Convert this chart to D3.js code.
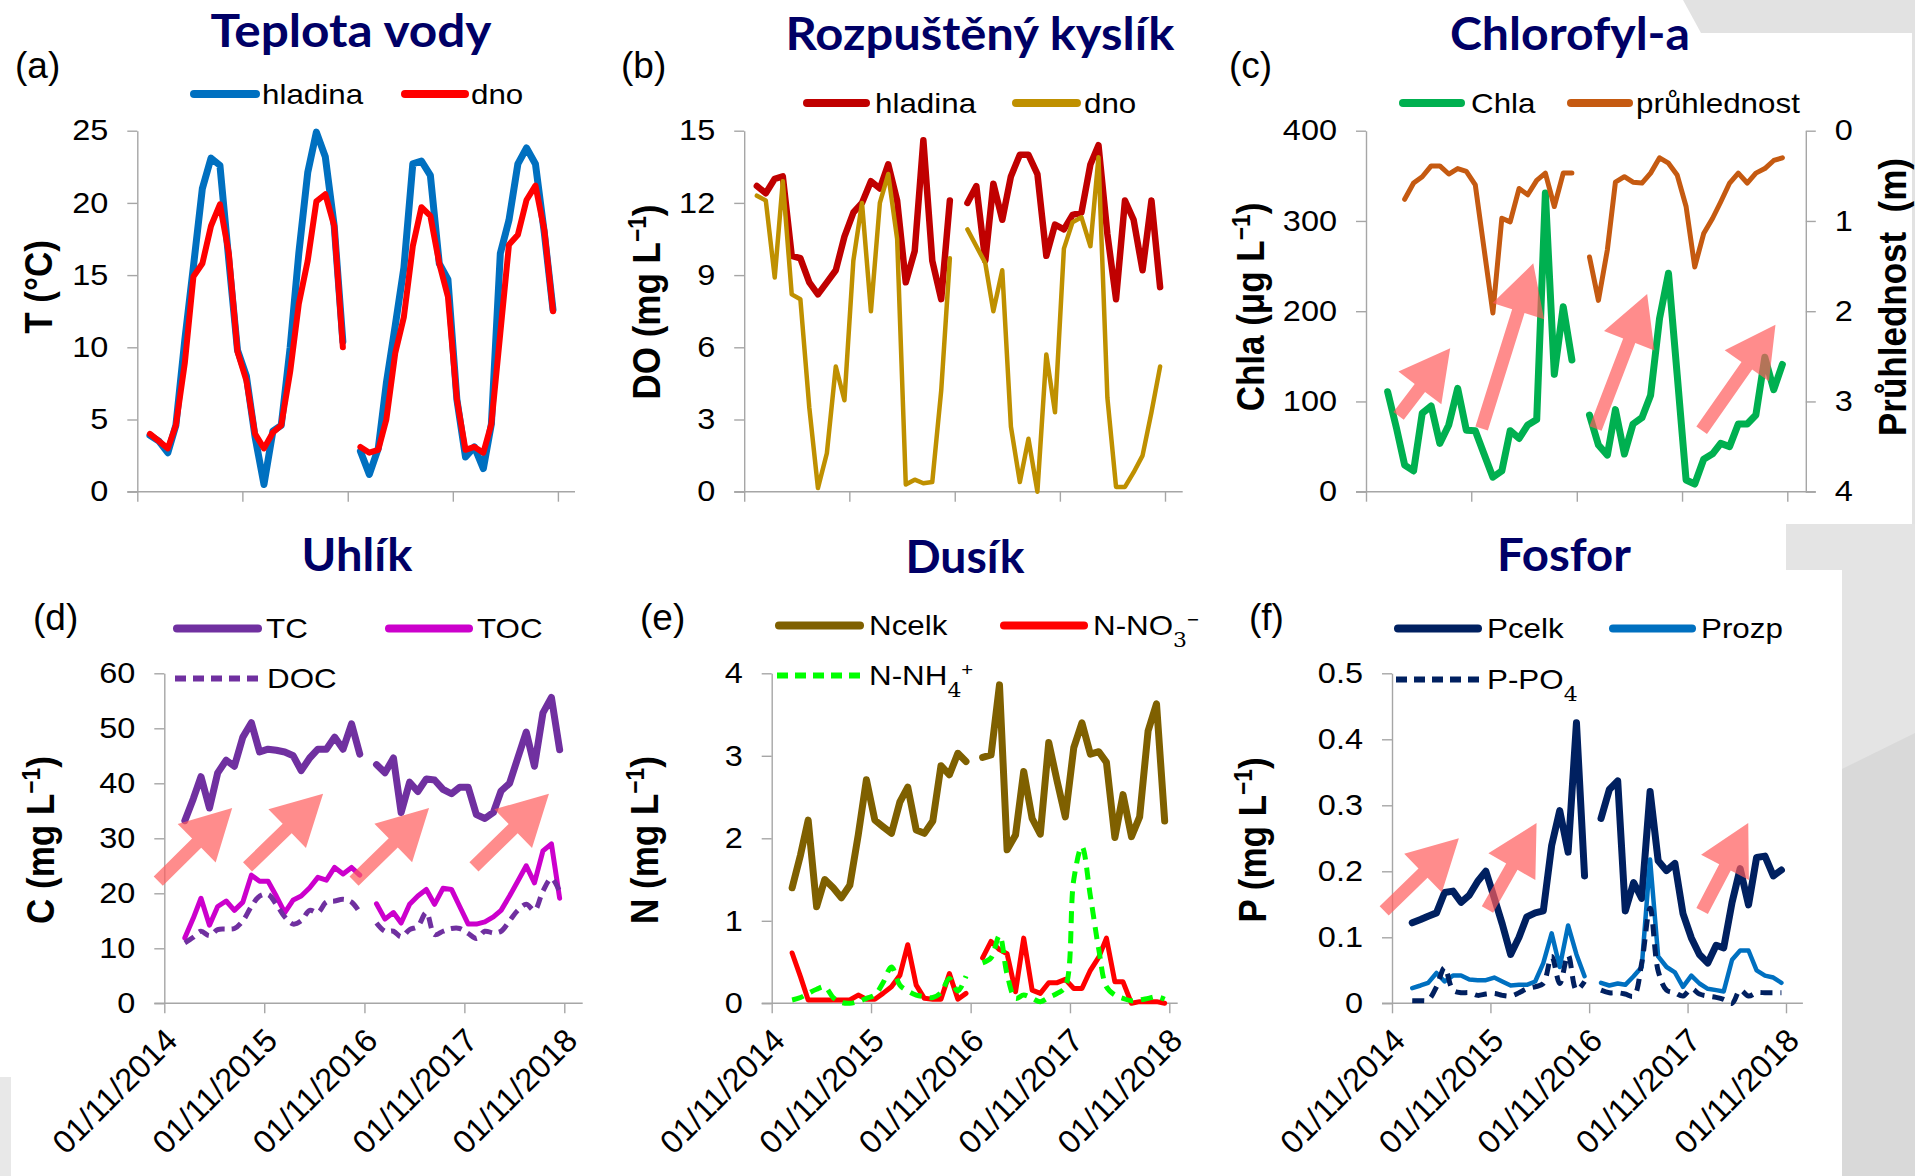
<!DOCTYPE html>
<html>
<head>
<meta charset="utf-8">
<script src="https://cdn.jsdelivr.net/npm/d3@7"></script>
<style>
  html, body { margin: 0; padding: 0; background: #ffffff; }
  svg { display: block; }
</style>
</head>
<body>
<svg id="fig" width="1915" height="1176"></svg>
<script>
// ---------- sampling dates (monthly, mid-month; Nov 2016 not sampled) ----------
const months = [
  "2014-12-15",
  "2015-01-15","2015-02-15","2015-03-15","2015-04-15","2015-05-15","2015-06-15",
  "2015-07-15","2015-08-15","2015-09-15","2015-10-15","2015-11-15","2015-12-15",
  "2016-01-15","2016-02-15","2016-03-15","2016-04-15","2016-05-15","2016-06-15",
  "2016-07-15","2016-08-15","2016-09-15","2016-10-15","2016-11-15","2016-12-15",
  "2017-01-15","2017-02-15","2017-03-15","2017-04-15","2017-05-15","2017-06-15",
  "2017-07-15","2017-08-15","2017-09-15","2017-10-15","2017-11-15","2017-12-15",
  "2018-01-15","2018-02-15","2018-03-15","2018-04-15","2018-05-15","2018-06-15",
  "2018-07-15","2018-08-15","2018-09-15","2018-10-15"
];
const tickLabels = ["01/11/2014", "01/11/2015", "01/11/2016", "01/11/2017", "01/11/2018"];

// ---------- (a) water temperature, °C ----------
const tempSurface = [3.9,3.5,2.7,4.6,10.5,15.6,21.0,23.1,22.6,16.0,9.8,8.0,3.8,0.5,4.2,4.6,10.0,16.5,22.1,24.9,23.2,18.4,10.4, null,
  2.8,1.2,3.0,7.5,11.5,15.5,22.7,22.9,21.9,15.8,14.7,6.4,2.4,3.1,1.6,4.7,16.5,18.8,22.7,23.8,22.7,17.9,12.6];
const tempBottom = [4.0,3.5,3.0,4.6,8.9,14.9,15.8,18.4,19.9,16.5,9.7,7.7,4.0,3.0,4.1,4.6,8.3,13.0,16.0,20.1,20.6,18.4,10.0, null,
  3.1,2.7,2.9,5.0,9.6,12.1,17.0,19.7,19.1,15.8,13.5,6.4,2.9,3.1,2.7,4.7,11.0,17.1,17.8,20.2,21.2,18.1,12.5];

// ---------- (b) dissolved oxygen, mg/L ----------
const doSurface = [12.7,12.4,13.0,13.1,9.8,9.7,8.7,8.2,8.7,9.2,10.6,11.6,12.0,12.9,12.6,13.6,12.1,8.7,10.0,14.6,9.6,8.0,12.1, null,
  12.0,12.7,9.6,12.8,11.3,13.1,14.0,14.0,13.2,9.8,11.1,10.9,11.5,11.6,13.6,14.4,10.7,8.0,12.1,11.3,9.2,12.1,8.5];
const doBottom = [12.3,12.1,8.9,12.9,8.2,8.0,3.5,0.15,1.6,5.2,3.8,9.6,12.0,7.5,12.0,13.2,10.5,0.3,0.5,0.35,0.4,4.2,9.7, null,
  10.9,10.2,9.5,7.5,9.2,2.7,0.4,2.2,0.0,5.7,3.3,10.1,11.2,11.4,10.2,13.9,3.9,0.2,0.2,0.8,1.5,3.3,5.2];

// ---------- (c) chlorophyll-a (µg/L) and Secchi transparency (m) ----------
const chla = [null,110.8,70,29.5,23,87,95,53.5,74,114.5,68,67.6,42,16,23,67.6,59,74,80,331,130,205,146, null,
  85,51.7,40.6,91,41.7,75,82,107,192,242,130,13,8.5,36,42,53.5,50,75,75,85,149,113,141];
const secchi = [null,null,null,0.76,0.58,0.51,0.39,0.39,0.48,0.42,0.45,0.60,1.3,2.02,0.97,1.01,0.64,0.71,0.55,0.47,0.84,0.47,0.47, null,
  1.40,1.88,1.32,0.57,0.51,0.57,0.58,0.47,0.30,0.36,0.49,0.84,1.51,1.14,0.97,0.79,0.58,0.47,0.58,0.47,0.42,0.33,0.30];

// ---------- (d) carbon, mg/L ----------
const tc = [null,33.2,37.2,41.2,35.5,41.9,44.2,43.1,48.4,51.0,45.7,46.2,46.0,45.7,45.0,42.3,44.6,46.2,46.2,48.4,46.2,50.8,45.3, null,
  43.4,41.9,44.6,34.7,40.2,38.5,40.8,40.6,38.9,38.1,39.3,39.3,34.3,33.6,34.7,38.6,40.0,44.6,49.3,43.1,52.8,55.6,46.1];
const toc = [null,11.9,15.5,19.1,14.2,17.6,18.6,16.9,18.4,23.3,22.2,22.2,19.5,16.5,18.8,19.5,21.0,22.9,22.4,24.7,23.5,24.7,23.3, null,
  18.1,15.3,16.5,14.6,18.0,19.5,20.7,18.0,20.9,20.7,17.6,14.4,14.4,14.8,15.7,16.9,19.5,22.2,25.0,21.9,27.7,29.0,19.1];
const doc = [null,11.0,12.0,13.1,12.3,13.4,13.5,13.6,15.0,17.6,19.5,19.8,18.0,15.7,14.4,15.0,16.9,16.5,18.4,18.6,18.9,18.4,16.5, null,
  14.6,13.1,13.1,12.1,13.4,14.0,16.5,12.5,13.1,13.6,13.6,12.7,11.8,13.1,12.8,13.1,15.0,16.9,18.0,16.9,20.4,22.7,20.3];

// ---------- (e) nitrogen, mg/L ----------
const nTotal = [null,1.40,1.80,2.22,1.17,1.50,1.40,1.28,1.43,2.04,2.71,2.22,2.14,2.06,2.44,2.62,2.10,2.06,2.21,2.88,2.77,3.03,2.93, null,
  2.98,3.01,3.86,1.86,2.04,2.81,2.24,2.05,3.16,2.69,2.26,3.10,3.40,3.02,3.05,2.92,2.01,2.53,2.02,2.26,3.30,3.63,2.21];
const nNO3 = [null,0.61,0.32,0.04,0.04,0.04,0.04,0.04,0.04,0.10,0.05,0.05,0.12,0.20,0.34,0.71,0.22,0.06,0.05,0.05,0.36,0.05,0.12, null,
  0.55,0.75,0.65,0.60,0.14,0.79,0.16,0.12,0.25,0.25,0.29,0.18,0.18,0.40,0.56,0.79,0.26,0.26,0.0,0.02,0.02,0.02,0.0];
const nNH4 = [null,0.04,0.07,0.12,0.17,0.20,0.07,0.01,0.0,0.02,0.06,0.10,0.25,0.44,0.22,0.15,0.10,0.08,0.07,0.13,0.30,0.15,0.33, null,
  0.49,0.55,0.82,0.35,0.06,0.10,0.06,0.02,0.07,0.12,0.20,1.50,1.90,1.30,0.65,0.20,0.10,0.06,0.03,0.04,0.06,0.08,0.05];

// ---------- (f) phosphorus, mg/L ----------
const pTotal = [null,0.122,0.127,0.132,0.137,0.168,0.170,0.153,0.164,0.185,0.200,0.160,0.120,0.074,0.100,0.131,0.137,0.140,0.239,0.292,0.229,0.425,0.193, null,
  0.280,0.324,0.337,0.140,0.183,0.159,0.321,0.216,0.201,0.212,0.136,0.099,0.074,0.061,0.088,0.084,0.153,0.204,0.149,0.221,0.223,0.193,0.202];
const pDissolved = [null,0.023,0.027,0.031,0.046,0.033,0.042,0.042,0.036,0.035,0.035,0.039,0.033,0.027,0.028,0.028,0.033,0.061,0.106,0.055,0.118,0.074,0.041, null,
  0.031,0.027,0.030,0.028,0.041,0.055,0.218,0.071,0.055,0.047,0.025,0.042,0.030,0.022,0.020,0.018,0.066,0.080,0.080,0.050,0.042,0.039,0.031];
const pPO4 = [null,0.004,0.004,0.005,0.025,0.054,0.020,0.016,0.016,0.012,0.014,0.015,0.012,0.011,0.016,0.022,0.025,0.030,0.071,0.030,0.073,0.020,0.033, null,
  0.020,0.016,0.016,0.014,0.011,0.061,0.144,0.049,0.020,0.016,0.011,0.022,0.014,0.011,0.009,0.006,0.0,0.020,0.011,0.016,0.016,0.016,0.016];

// ---------- trend arrows: [from date, from value, to date, to value] ----------
const arrowsChla = [
  ["2015-02-22", 84, "2015-08-20", 159],
  ["2015-12-07", 70, "2016-06-03", 253],
  ["2017-01-05", 70, "2017-07-03", 219],
  ["2018-01-08", 68, "2018-09-21", 185]
];
const arrowsCarbon = [
  ["2014-10-10", 22.2, "2015-07-07", 35.5],
  ["2015-09-01", 24.8, "2016-06-03", 38.1],
  ["2016-09-24", 22.2, "2017-06-25", 35.5],
  ["2017-12-06", 24.8, "2018-09-06", 38.1]
];
const arrowsPhosphorus = [
  ["2014-10-03", 0.140, "2015-07-07", 0.250],
  ["2015-10-21", 0.142, "2016-04-20", 0.273],
  ["2017-12-25", 0.140, "2018-06-14", 0.273]
];

// ====================================================================
const svg = d3.select("#fig");
const FONT = "'Liberation Sans', Arial, sans-serif";
const TITLE_FONT = "Lato, 'Open Sans', sans-serif";
const AXIS_COLOR = "#a6a6a6";
const TITLE_COLOR = "#000066";
const SX = 1.12;   // horizontal widening of the lettering

const parseDay = d3.timeParse("%Y-%m-%d");
const parseTick = d3.timeParse("%d/%m/%Y");
const dates = months.map(parseDay);
const tickDates = tickLabels.map(parseTick);
const timeDomain = [tickDates[0], tickDates[tickDates.length - 1]];

// slide background pieces around the figure
const bg = svg.append("g");
bg.append("polygon").attr("points", "1683,0 1915,0 1915,33 1701,33").attr("fill", "#e2e2e2");
bg.append("rect").attr("x", 1912).attr("y", 0).attr("width", 3).attr("height", 524).attr("fill", "#e2e2e2");
bg.append("polygon").attr("points", "1786,524 1915,524 1915,1176 1842,1176 1842,570 1786,570").attr("fill", "#e4e4e4");
bg.append("polygon").attr("points", "1842,769 1915,733 1915,1176 1842,1176").attr("fill", "#d9d9d9");
bg.append("rect").attr("x", 0).attr("y", 1077).attr("width", 11).attr("height", 99).attr("fill", "#e8e8e8");

// widen text horizontally about its own anchor point
function widen(sel) {
  sel.each(function () {
    const t = d3.select(this);
    const x = +t.attr("x") || 0, y = +t.attr("y") || 0;
    const prev = t.attr("transform") || "";
    t.attr("x", 0).attr("y", 0).attr("transform", `${prev} translate(${x},${y}) scale(${SX},1)`);
  });
}

function addText(g, x, y, parts, opts) {
  const t = g.append("text")
    .attr("font-family", opts.family || FONT)
    .attr("font-size", opts.size)
    .attr("font-weight", opts.weight || "normal")
    .attr("fill", opts.color || "#000")
    .attr("text-anchor", opts.anchor || "start")
    .style("white-space", "pre");
  const sx = opts.sx || 1;
  t.attr("transform", `translate(${x},${y}) scale(${sx},1) ${opts.rotate ? `rotate(${opts.rotate})` : ""}`);
  if (opts.dy) t.attr("dy", opts.dy);
  if (opts.length) t.attr("textLength", opts.length).attr("lengthAdjust", "spacingAndGlyphs");
  (typeof parts === "string" ? [parts] : parts).forEach(p => {
    if (typeof p === "string") { t.append("tspan").text(p); return; }
    const s = t.append("tspan").text(p.t);
    if (p.sup) s.attr("baseline-shift", "super").attr("font-size", "65%");
    if (p.sub) s.attr("baseline-shift", "sub").attr("font-size", "70%");
    if (p.serif) s.attr("font-family", "'DejaVu Serif', serif");
  });
  return t;
}

function styleAxis(ax) {
  ax.attr("font-family", FONT).attr("font-size", 29);
  ax.selectAll("line").attr("stroke", AXIS_COLOR).attr("stroke-width", 1.4);
  ax.selectAll(".domain").attr("stroke", AXIS_COLOR).attr("stroke-width", 1.4);
  ax.selectAll("text").attr("fill", "#000");
  widen(ax.selectAll("text"));
}

function drawArrow(g, x, y, a) {
  const x0 = x(parseDay(a[0])), y0 = y(a[1]), x1 = x(parseDay(a[2])), y1 = y(a[3]);
  const dx = x1 - x0, dy = y1 - y0, len = Math.hypot(dx, dy);
  const ux = dx / len, uy = dy / len, nx = -uy, ny = ux;
  const shaft = 6.5, head = 27, headLen = 50;
  const bx = x1 - ux * headLen, by = y1 - uy * headLen;
  const pts = [
    [x0 + nx * shaft, y0 + ny * shaft], [bx + nx * shaft, by + ny * shaft],
    [bx + nx * head, by + ny * head], [x1, y1],
    [bx - nx * head, by - ny * head], [bx - nx * shaft, by - ny * shaft],
    [x0 - nx * shaft, y0 - ny * shaft]
  ];
  g.append("polygon").attr("points", pts.map(p => p.join(",")).join(" "))
    .attr("fill", "#ff5b5b").attr("fill-opacity", 0.7);
}

function panel(p) {
  const g = svg.append("g");
  const x = d3.scaleTime().domain(timeDomain).range([p.left, p.right]);
  const y = d3.scaleLinear().domain(p.yDomain).range([p.bottom, p.top]);

  // y axis
  const ya = g.append("g").attr("transform", `translate(${p.left},0)`)
    .call(d3.axisLeft(y).tickValues(p.yTicks).tickSize(10).tickPadding(19).tickSizeOuter(0)
      .tickFormat(d3.format("")));
  styleAxis(ya);

  // x axis
  const xa = g.append("g").attr("transform", `translate(0,${p.bottom})`)
    .call(d3.axisBottom(x).tickValues(tickDates).tickSize(10).tickFormat(""));
  xa.select(".domain").remove();
  xa.append("line").attr("x1", p.left - 10).attr("x2", p.axisEnd).attr("y1", 0).attr("y2", 0);
  styleAxis(xa);
  if (p.dateLabels) {
    g.selectAll("text.xlab").data(tickDates).join("text")
      .attr("class", "xlab")
      .attr("transform", d => `translate(${x(d) + 7},${p.bottom + 31}) rotate(-45)`)
      .attr("text-anchor", "end").attr("dy", "0.35em")
      .attr("font-family", FONT).attr("font-size", 32.5).attr("fill", "#000")
      .text((d, i) => tickLabels[i]);
  }

  // secondary axis (transparency, reversed)
  let y2 = null;
  if (p.y2) {
    y2 = d3.scaleLinear().domain(p.y2.domain).range([p.top, p.bottom]);
    const ra = g.append("g").attr("transform", `translate(${p.y2.x},0)`)
      .call(d3.axisRight(y2).tickValues(p.y2.ticks).tickSize(10).tickPadding(19).tickSizeOuter(0)
        .tickFormat(d3.format("")));
    styleAxis(ra);
  }

  // data lines
  p.series.forEach(s => {
    const ys = s.right ? y2 : y;
    const line = d3.line()
      .defined(d => d != null)
      .x((d, i) => x(dates[i]))
      .y(d => ys(d))
      .curve(s.smooth ? d3.curveCatmullRom.alpha(0.5) : d3.curveLinear);
    g.append("path").datum(s.values)
      .attr("d", line)
      .attr("fill", "none")
      .attr("stroke", s.color)
      .attr("stroke-width", s.width)
      .attr("stroke-linejoin", "round")
      .attr("stroke-linecap", s.dash ? "butt" : "round")
      .attr("stroke-dasharray", s.dash || null);
  });

  // trend arrows
  (p.arrows || []).forEach(a => drawArrow(g, x, y, a));

  // legend
  p.legend.forEach(l => {
    const s = p.series[l.series];
    g.append("line")
      .attr("x1", l.x1).attr("x2", l.x2).attr("y1", l.y).attr("y2", l.y)
      .attr("stroke", s.color).attr("stroke-width", s.dash ? 6 : 8)
      .attr("stroke-linecap", s.dash ? "butt" : "round")
      .attr("stroke-dasharray", s.dash ? "11,7" : null);
    addText(g, l.tx, l.y, l.label, { size: 28, dy: "0.35em", sx: SX });
  });

  // titles and labels
  addText(g, p.title.cx, p.title.y, p.title.text,
    { size: 45, weight: "bold", family: TITLE_FONT, color: TITLE_COLOR, anchor: "middle", length: p.title.w });
  addText(g, p.tag.x, p.tag.y, p.tag.text, { size: 37 });
  p.axisTitles.forEach(a => {
    addText(g, a.x, a.y, a.text, {
      size: 35, weight: "bold", anchor: "middle", dy: "0.36em", sx: SX, rotate: -90
    });
  });
}

const mgL = ["(mg L", { t: "\u22121", sup: true }, ")"];

// (a) Teplota vody
panel({
  left: 137.3, right: 557.9, top: 130.7, bottom: 491.7, axisEnd: 575,
  yDomain: [0, 25], yTicks: [0, 5, 10, 15, 20, 25],
  series: [
    { values: tempSurface, color: "#0070c0", width: 7 },
    { values: tempBottom, color: "#ff0000", width: 6 }
  ],
  legend: [
    { series: 0, x1: 194, x2: 256, y: 94, tx: 262, label: "hladina" },
    { series: 1, x1: 405, x2: 465, y: 94, tx: 471, label: "dno" }
  ],
  title: { text: "Teplota vody", cx: 351, y: 47, w: 281 },
  tag: { text: "(a)", x: 15, y: 78 },
  axisTitles: [{ text: "T (°C)", x: 38, y: 287 }]
});

// (b) Rozpuštěný kyslík
panel({
  left: 744.2, right: 1165, top: 130.7, bottom: 491.7, axisEnd: 1182.7,
  yDomain: [0, 15], yTicks: [0, 3, 6, 9, 12, 15],
  series: [
    { values: doSurface, color: "#c00000", width: 6.5 },
    { values: doBottom, color: "#bf9000", width: 4.5 }
  ],
  legend: [
    { series: 0, x1: 807, x2: 866, y: 103, tx: 875, label: "hladina" },
    { series: 1, x1: 1016, x2: 1077, y: 103, tx: 1084, label: "dno" }
  ],
  title: { text: "Rozpuštěný kyslík", cx: 980, y: 50, w: 389 },
  tag: { text: "(b)", x: 621, y: 78 },
  axisTitles: [{ text: ["DO ", ...mgL], x: 646, y: 302 }]
});

// (c) Chlorofyl-a
panel({
  left: 1366, right: 1787.3, top: 130.7, bottom: 491.7, axisEnd: 1815.8,
  yDomain: [0, 400], yTicks: [0, 100, 200, 300, 400],
  y2: { x: 1805.8, domain: [0, 4], ticks: [0, 1, 2, 3, 4] },
  series: [
    { values: chla, color: "#00b050", width: 7 },
    { values: secchi, color: "#c55a11", width: 5, right: true }
  ],
  arrows: arrowsChla,
  legend: [
    { series: 0, x1: 1403, x2: 1461, y: 103, tx: 1471, label: "Chla" },
    { series: 1, x1: 1571, x2: 1629, y: 103, tx: 1636, label: "průhlednost" }
  ],
  title: { text: "Chlorofyl-a", cx: 1570, y: 50, w: 240 },
  tag: { text: "(c)", x: 1229, y: 78 },
  axisTitles: [
    { text: ["Chla (μg L", { t: "\u22121", sup: true }, ")"], x: 1250, y: 307 },
    { text: "Průhlednost  (m)", x: 1892, y: 297 }
  ]
});

// (d) Uhlík
panel({
  left: 164.3, right: 564.3, top: 673.3, bottom: 1003.3, axisEnd: 582.7, dateLabels: true,
  yDomain: [0, 60], yTicks: [0, 10, 20, 30, 40, 50, 60],
  series: [
    { values: tc, color: "#7030a0", width: 7 },
    { values: toc, color: "#cc00cc", width: 5 },
    { values: doc, color: "#7030a0", width: 5, dash: "11,7", smooth: true }
  ],
  arrows: arrowsCarbon,
  legend: [
    { series: 0, x1: 177, x2: 258, y: 628.5, tx: 266, label: "TC" },
    { series: 1, x1: 389, x2: 469, y: 628.5, tx: 477, label: "TOC" },
    { series: 2, x1: 175, x2: 259, y: 678.5, tx: 267, label: "DOC" }
  ],
  title: { text: "Uhlík", cx: 357, y: 570.5, w: 111 },
  tag: { text: "(d)", x: 33, y: 630 },
  axisTitles: [{ text: ["C ", ...mgL], x: 40, y: 840 }]
});

// (e) Dusík
panel({
  left: 771.7, right: 1169.3, top: 673.3, bottom: 1003.3, axisEnd: 1177.7, dateLabels: true,
  yDomain: [0, 4], yTicks: [0, 1, 2, 3, 4],
  series: [
    { values: nTotal, color: "#7f6000", width: 7 },
    { values: nNO3, color: "#ff0000", width: 5 },
    { values: nNH4, color: "#00ff00", width: 5, dash: "12,8", smooth: true }
  ],
  legend: [
    { series: 0, x1: 779, x2: 860, y: 625.5, tx: 869, label: "Ncelk" },
    { series: 1, x1: 1004, x2: 1084, y: 625.5, tx: 1093, label: ["N-NO", { t: "3", sub: true, serif: true }, { t: "\u2212", sup: true }] },
    { series: 2, x1: 777, x2: 861, y: 675.5, tx: 869, label: ["N-NH", { t: "4", sub: true, serif: true }, { t: "+", sup: true }] }
  ],
  title: { text: "Dusík", cx: 965, y: 572.5, w: 119 },
  tag: { text: "(e)", x: 640, y: 630 },
  axisTitles: [{ text: ["N ", ...mgL], x: 644, y: 840 }]
});

// (f) Fosfor
panel({
  left: 1392, right: 1786, top: 673.3, bottom: 1003.3, axisEnd: 1802.9, dateLabels: true,
  yDomain: [0, 0.5], yTicks: [0, 0.1, 0.2, 0.3, 0.4, 0.5],
  series: [
    { values: pTotal, color: "#002060", width: 7 },
    { values: pDissolved, color: "#0070c0", width: 4.5 },
    { values: pPO4, color: "#002060", width: 5, dash: "12,8", smooth: true }
  ],
  arrows: arrowsPhosphorus,
  legend: [
    { series: 0, x1: 1398, x2: 1478, y: 628.5, tx: 1487, label: "Pcelk" },
    { series: 1, x1: 1613, x2: 1692, y: 628.5, tx: 1701, label: "Prozp" },
    { series: 2, x1: 1396, x2: 1479, y: 679.5, tx: 1487, label: ["P-PO", { t: "4", sub: true, serif: true }] }
  ],
  title: { text: "Fosfor", cx: 1564, y: 571, w: 134 },
  tag: { text: "(f)", x: 1249, y: 630 },
  axisTitles: [{ text: ["P ", ...mgL], x: 1252, y: 840 }]
});
</script>
</body>
</html>
